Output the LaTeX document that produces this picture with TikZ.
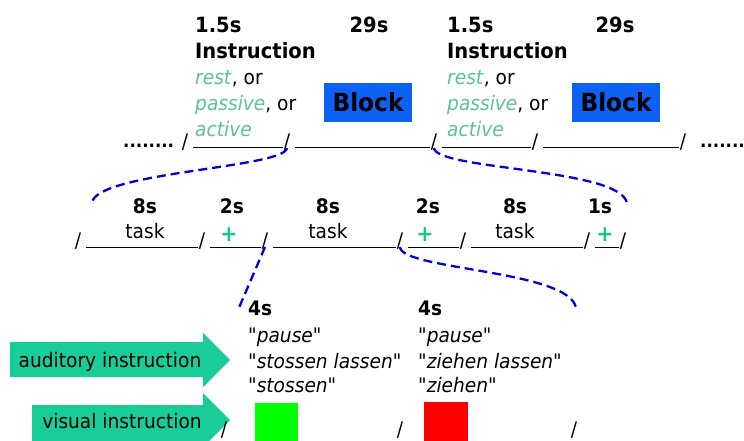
\documentclass[tikz,border=0pt]{standalone}
\usepackage{fontspec}
\setmainfont{DejaVu Sans}[FakeStretch=0.93, Ligatures=TeXOff]
\usetikzlibrary{calc}

\definecolor{cuegreen}{RGB}{90,195,150}
\definecolor{plusgreen}{RGB}{20,200,140}
\definecolor{arrowgreen}{RGB}{25,205,155}
\definecolor{blockblue}{RGB}{13,98,245}
\definecolor{zoomblue}{RGB}{0,0,220}

\tikzset{
  every node/.style={inner sep=0pt, font=\fontsize{20}{24}\selectfont},
  txt/.style={anchor=base west},
  head/.style={anchor=base west, font=\fontsize{21}{24}\selectfont\bfseries},
  dur/.style={anchor=base, font=\fontsize{20}{24}\selectfont\bfseries},
  cue/.style={anchor=base west, font=\fontsize{20}{24}\selectfont\itshape},
  tick/.style={anchor=base},
  seg/.style={line width=1pt},
  cross/.style={text=plusgreen, font=\fontsize{22}{24}\selectfont\bfseries},
  blockbox/.style={fill=blockblue, minimum width=88pt, minimum height=39pt,
    font=\fontsize{25}{28}\selectfont\bfseries},
  zoomline/.style={draw=zoomblue, line width=2.3pt, dash pattern=on 9pt off 5pt},
  cuearrow/.style={fill=arrowgreen}
}

\begin{document}
\begin{tikzpicture}[x=1pt,y=-1pt]
\useasboundingbox (0,0) rectangle (744,441);
\clip (0,0) rectangle (744,441);

% --- run level: instruction + block, repeated
\node[head] (instA) at (195,33) {1.5s};
\node[head] at (195,59) {Instruction};
\node[txt] at (195,85) {\textcolor{cuegreen}{\textit{rest}}, or};
\node[txt] at (195,111) {\textcolor{cuegreen}{\textit{passive}}, or};
\node[txt, text=cuegreen, font=\fontsize{20}{24}\selectfont\itshape] at (195,136) {active};
\node[dur, font=\fontsize{21}{24}\selectfont\bfseries] (blkdurA) at (369,33) {29s};
\node[blockbox] (blockA) at (368,102.5) {Block};

\node[head] (instB) at (447,33) {1.5s};
\node[head] at (447,59) {Instruction};
\node[txt] at (447,85) {\textcolor{cuegreen}{\textit{rest}}, or};
\node[txt] at (447,111) {\textcolor{cuegreen}{\textit{passive}}, or};
\node[txt, text=cuegreen, font=\fontsize{20}{24}\selectfont\itshape] at (447,136) {active};
\node[dur, font=\fontsize{21}{24}\selectfont\bfseries] (blkdurB) at (615,33) {29s};
\node[blockbox] (blockB) at (616,102.5) {Block};

\node[anchor=base west, font=\fontsize{18}{24}\selectfont\bfseries] (dotsL) at (123,147) {........};
\node[anchor=base west, font=\fontsize{18}{24}\selectfont\bfseries] (dotsR) at (700,147) {.......};

\node[tick] (t1) at (185,148) {/};
\node[tick] (t2) at (287,148) {/};
\node[tick] (t3) at (434,148) {/};
\node[tick] (t4) at (535,148) {/};
\node[tick] (t5) at (683,148) {/};
\draw[seg] ([xshift=5pt]t1.base east) -- ([xshift=-1pt]t2.base west);
\draw[seg] ([xshift=5pt]t2.base east) -- ([xshift=-1pt]t3.base west);
\draw[seg] ([xshift=5pt]t3.base east) -- ([xshift=-1pt]t4.base west);
\draw[seg] ([xshift=5pt]t4.base east) -- ([xshift=-1pt]t5.base west);

% --- block level: task / fixation
\node[tick] (m1) at (78,247) {/};
\node[tick] (m2) at (202,247) {/};
\node[tick] (m3) at (265,247) {/};
\node[tick] (m4) at (400,247) {/};
\node[tick] (m5) at (463,247) {/};
\node[tick] (m6) at (587,247) {/};
\node[tick] (m7) at (623,247) {/};
\foreach \a/\b in {m1/m2,m2/m3,m3/m4,m4/m5,m5/m6,m6/m7}
  \draw[seg] ([xshift=5pt]\a.base east) -- ([xshift=-1pt]\b.base west);

\node[dur] (d1) at (145,213) {8s};
\node[anchor=base] (task1) at (145,238) {task};
\node[dur] (d2) at (232,213) {2s};
\node[cross] (fix1) at (229,235) {+};
\node[dur] (d3) at (328,213) {8s};
\node[anchor=base] (task2) at (328,238) {task};
\node[dur] (d4) at (428,213) {2s};
\node[cross] (fix2) at (425,235) {+};
\node[dur] (d5) at (515,213) {8s};
\node[anchor=base] (task3) at (515,238) {task};
\node[dur] (d6) at (600,213) {1s};
\node[cross] (fix3) at (605,235) {+};

% --- trial level: auditory and visual cues
\fill[cuearrow] (10,342) -- (203,342) -- (203,333) -- (230,360) -- (203,387)
  -- (203,377) -- (10,377) -- cycle;
\node[anchor=base] (audlbl) at (110,367) {auditory instruction};
\fill[cuearrow] (32,405) -- (203,405) -- (203,393) -- (230,420) -- (203,447)
  -- (203,445) -- (32,445) -- cycle;
\node[anchor=base] (vislbl) at (122,428) {visual instruction};

\node[txt, font=\fontsize{20}{24}\selectfont\bfseries] (push) at (248,315) {4s};
\node[cue] (pushA) at (248,342) {\textup{"}pause\textup{"}};
\node[cue] (pushB) at (248,368) {\textup{"}stossen lassen"};
\node[cue] (pushC) at (248,392) {\textup{"}stossen"};
\node[txt, font=\fontsize{20}{24}\selectfont\bfseries] (pull) at (418,315) {4s};
\node[cue] (pullA) at (418,342) {\textup{"}pause\textup{"}};
\node[cue] (pullB) at (418,368) {\textup{"}ziehen lassen"};
\node[cue] (pullC) at (418,392) {\textup{"}ziehen"};

\fill[green] (255,403) rectangle (298,447);
\fill[red] (424,402) rectangle (468,446);
\node[tick] (b1) at (224,436) {/};
\node[tick] (b2) at (400,436) {/};
\node[tick] (b3) at (574,436) {/};

% --- zoom-in connectors
\coordinate (zA) at (92,203);
\coordinate (zB) at (627,203);
\coordinate (zC) at (238,310);
\coordinate (zD) at (576,308);
\draw[zoomline] (t2.base) .. controls (285,168) and (95,172) .. (zA);
\draw[zoomline] (t3.base) .. controls (436,170) and (620,168) .. (zB);
\draw[zoomline] (m3.base) -- (zC);
\draw[zoomline] (m4.base) .. controls (401,270) and (570,270) .. (zD);
\end{tikzpicture}
\end{document}
